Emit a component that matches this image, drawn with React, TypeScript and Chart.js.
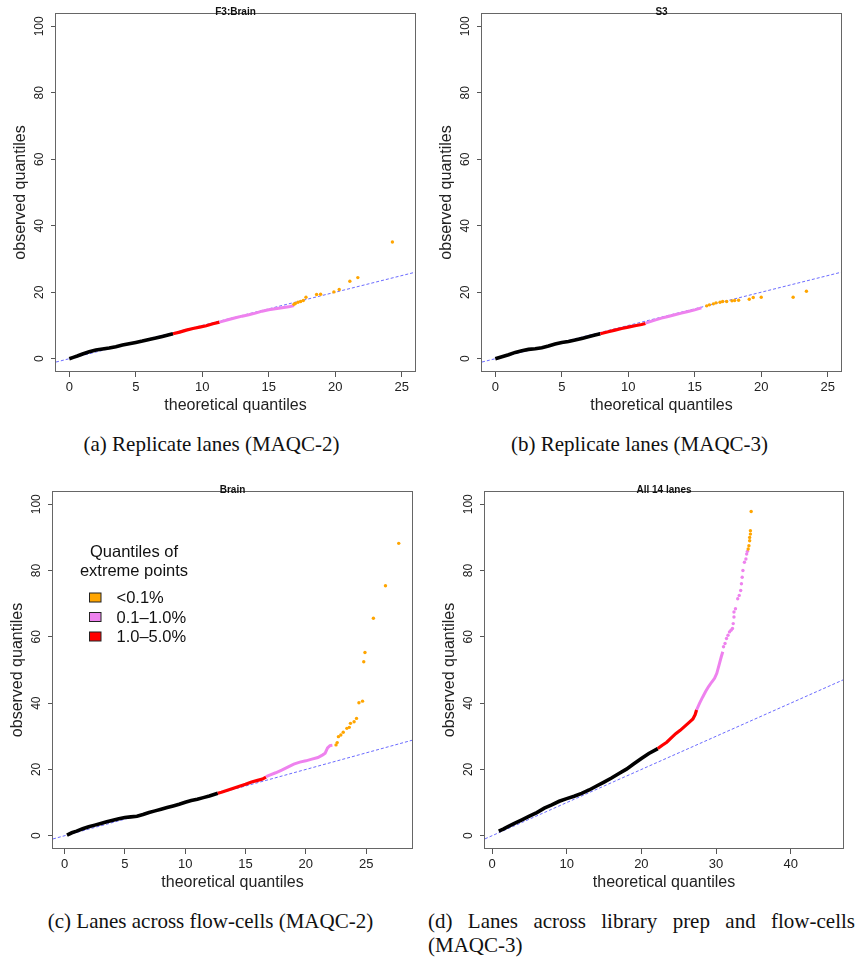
import React, { useEffect, useRef } from "react";
import { Chart, registerables } from "chart.js";
Chart.register(...registerables);

type Pt = [number, number];

// ---------- DATA ----------
const Y_TICKS = [0, 20, 40, 60, 80, 100];
const X_TICKS_25 = [0, 5, 10, 15, 20, 25];
const X_TICKS_40 = [0, 10, 20, 30, 40];

const LEGEND_TITLE = ["Quantiles of", "extreme points"];
const LEGEND_LABELS = ["<0.1%", "0.1\u20131.0%", "1.0\u20135.0%"];

// (a) F3:Brain
const A_BLACK: Pt[] = [[0, 0], [0.3, 0.4], [0.6, 0.8], [1, 1.4], [1.5, 2.1], [2, 2.6], [2.5, 2.9], [3, 3.2], [3.5, 3.6], [4, 4.1], [4.5, 4.5], [5, 4.9], [5.5, 5.3], [6, 5.8], [6.5, 6.2], [7, 6.7], [7.5, 7.2], [7.8, 7.5]];
const A_RED: Pt[] = [[7.8, 7.5], [8.3, 8.0], [8.8, 8.6], [9.3, 9.1], [9.8, 9.5], [10.3, 9.9], [10.8, 10.5], [11.3, 11.0]];
const A_VIOLET: Pt[] = [[11.3, 11.0], [12, 11.8], [12.5, 12.3], [13, 12.8], [13.5, 13.2], [14, 13.7], [14.5, 14.3], [15, 14.7], [15.5, 15.0], [16, 15.3], [16.5, 15.6], [16.9, 16.0]];
const A_ORANGE: Pt[] = [[16.9, 16.4], [17.0, 16.6], [17.2, 17.0], [17.4, 17.2], [17.6, 17.5], [17.8, 18.5], [18.6, 19.3], [18.9, 19.4], [19.9, 20.1], [20.3, 20.8], [21.1, 23.3], [21.7, 24.4], [24.3, 35.1]];

// (b) S3
const B_BLACK: Pt[] = [[0, 0], [0.5, 0.6], [1, 1.2], [1.5, 1.9], [2, 2.4], [2.5, 2.8], [3, 3.0], [3.5, 3.3], [4, 3.8], [4.5, 4.4], [5, 4.9], [5.5, 5.2], [6, 5.6], [6.5, 6.1], [7, 6.6], [7.5, 7.1], [7.9, 7.5]];
const B_RED: Pt[] = [[7.9, 7.5], [8.5, 8.1], [9, 8.6], [9.5, 9.1], [10, 9.5], [10.5, 9.9], [11, 10.3], [11.3, 10.6]];
const B_VIOLET: Pt[] = [[11.3, 10.7], [12, 11.6], [12.5, 12.2], [13, 12.7], [13.5, 13.2], [14, 13.7], [14.5, 14.2], [15, 14.7], [15.5, 15.3]];
const B_ORANGE: Pt[] = [[15.9, 15.9], [16.1, 16.2], [16.4, 16.5], [16.6, 16.8], [16.9, 17.0], [17.1, 17.2], [17.4, 17.2], [17.8, 17.4], [18.0, 17.5], [18.3, 17.6], [19.1, 17.9], [19.4, 18.4], [20.0, 18.5], [22.4, 18.5], [23.4, 20.3]];

// (c) Brain
const C_BLACK: Pt[] = [[0.2, 0.2], [0.6, 0.9], [1, 1.4], [1.5, 2.1], [2, 2.7], [2.5, 3.2], [3, 3.7], [3.5, 4.2], [4, 4.7], [4.5, 5.1], [5, 5.5], [5.5, 5.7], [6, 5.9], [6.5, 6.4], [7, 7.0], [7.5, 7.5], [8, 8.0], [8.5, 8.5], [9, 9.0], [9.5, 9.5], [10, 10.1], [10.5, 10.6], [11, 11.0], [11.5, 11.5], [12, 12.0], [12.7, 12.8]];
const C_RED: Pt[] = [[12.7, 12.8], [13, 13.1], [13.5, 13.7], [14, 14.3], [14.5, 14.9], [15, 15.5], [15.5, 16.2], [16, 16.7], [16.4, 17.1], [16.7, 17.7]];
const C_VIOLET: Pt[] = [[16.7, 17.8], [17, 18.3], [17.5, 19.0], [18, 19.8], [18.5, 20.7], [19, 21.6], [19.5, 22.2], [20, 22.6], [20.5, 23.1], [21, 23.6], [21.4, 24.4], [21.6, 24.9], [21.8, 26.5], [22.0, 27.2], [22.2, 27.3]];
const C_ORANGE: Pt[] = [[22.5, 27.4], [22.6, 28.1], [22.7, 29.9], [22.9, 30.4], [23.1, 31.2], [23.4, 32.4], [23.6, 32.7], [23.7, 33.9], [24.0, 34.4], [24.2, 35.4], [24.4, 40.1], [24.7, 40.6], [24.8, 52.5], [24.9, 55.3], [25.6, 65.6], [26.6, 75.4], [27.7, 88.2]];

// (d) All 14 lanes
const D_BLACK: Pt[] = [[0.9, 1.4], [1.5, 2.0], [2, 2.6], [3, 3.7], [4, 4.8], [5, 5.9], [6, 7.0], [7, 8.3], [8, 9.3], [9, 10.4], [10, 11.2], [11, 11.9], [12, 12.8], [13, 13.8], [14, 15.0], [15, 16.2], [16, 17.4], [17, 18.8], [18, 20.1], [19, 21.7], [20, 23.3], [21, 24.8], [22.2, 26.3]];
const D_RED: Pt[] = [[22.2, 26.3], [22.8, 27.3], [23.4, 28.2], [24.0, 29.5], [24.6, 30.8], [25.2, 31.8], [25.8, 33.0], [26.4, 34.2], [26.9, 35.2], [27.2, 36.5], [27.4, 38.0]];
const D_VIOLET: Pt[] = [[27.4, 38.0], [27.8, 40.0], [28.2, 41.8], [28.6, 43.5], [29.0, 45.0], [29.4, 46.3], [29.8, 47.5], [30.1, 49.0], [30.4, 51.5], [30.7, 54.0], [30.9, 55.5]];
const D_VIOLET_SPARSE: Pt[] = [[31.0, 57.0], [31.2, 58.0], [31.4, 59.5], [31.6, 60.5], [31.8, 61.5], [32.0, 62.0], [32.2, 62.5], [32.3, 64.0], [32.4, 66.0], [32.4, 67.5], [32.6, 68.5], [32.9, 71.5], [33.1, 72.5], [33.3, 74.0], [33.4, 76.0], [33.5, 78.0], [33.6, 80.0], [33.8, 82.5], [34.0, 83.5], [34.1, 85.0], [34.2, 85.8]];
const D_ORANGE: Pt[] = [[34.3, 86.5], [34.4, 87.5], [34.5, 89.0], [34.5, 90.0], [34.6, 91.0], [34.6, 92.0], [34.7, 97.8]];

// ---------- STYLE ----------
const ORANGE = "#FFA500";
const VIOLET = "#EE82EE";
const RED = "#FF0000";
const BLACK = "#000000";
const BLUE = "rgba(90,90,255,0.9)";
const SANS = "'Liberation Sans', Arial, sans-serif";
const NARROW = "'Liberation Sans Narrow', 'Liberation Sans', Arial, sans-serif";
const X_AXIS_H = 45;

interface Spec {
  title: string;
  xMin: number; xMax: number; xTicks: number[];
  black: Pt[]; red: Pt[]; violet: Pt[]; violetSparse: Pt[]; orange: Pt[];
  left: number; top: number; width: number; height: number;
  box: { l: number; t: number; r: number; b: number };
  legend: boolean;
}

const SPECS: Spec[] = [
  { title: "F3:Brain", xMin: -1, xMax: 26, xTicks: X_TICKS_25, black: A_BLACK, red: A_RED, violet: A_VIOLET, violetSparse: [], orange: A_ORANGE,
    left: 0, top: 0, width: 426, height: 420, box: { l: 56, t: 13, r: 415, b: 372 }, legend: false },
  { title: "S3", xMin: -1, xMax: 26, xTicks: X_TICKS_25, black: B_BLACK, red: B_RED, violet: B_VIOLET, violetSparse: [], orange: B_ORANGE,
    left: 426, top: 0, width: 430, height: 420, box: { l: 56, t: 13, r: 415, b: 372 }, legend: false },
  { title: "Brain", xMin: -0.96, xMax: 28.8, xTicks: X_TICKS_25, black: C_BLACK, red: C_RED, violet: C_VIOLET, violetSparse: [], orange: C_ORANGE,
    left: 0, top: 470, width: 426, height: 428, box: { l: 53, t: 21, r: 412, b: 379 }, legend: true },
  { title: "All 14 lanes", xMin: -0.94, xMax: 47, xTicks: X_TICKS_40, black: D_BLACK, red: D_RED, violet: D_VIOLET, violetSparse: D_VIOLET_SPARSE, orange: D_ORANGE,
    left: 426, top: 470, width: 430, height: 428, box: { l: 59, t: 21, r: 417, b: 379 }, legend: false },
];

const toXY = (pts: Pt[]) => pts.map(([x, y]) => ({ x, y }));

function makeConfig(s: Spec): any {
  const framePlugin = {
    id: "frame",
    afterDatasetsDraw(chart: any) {
      const { ctx, chartArea: a } = chart;
      ctx.save();
      ctx.strokeStyle = "#666";
      ctx.lineWidth = 1;
      ctx.strokeRect(Math.round(a.left) - 0.5, Math.round(a.top) + 0.5, Math.round(a.right - a.left) + 1, Math.round(a.bottom - a.top) - 1);
      ctx.fillStyle = "#111";
      ctx.font = `bold 10px ${SANS}`;
      ctx.textAlign = "center";
      ctx.textBaseline = "alphabetic";
      ctx.fillText(s.title, (a.left + a.right) / 2, a.top + 1.5);
      if (s.legend) {
        ctx.font = `16.5px ${SANS}`;
        ctx.fillStyle = "#111";
        ctx.textBaseline = "middle";
        ctx.fillText(LEGEND_TITLE[0], 134, 82);
        ctx.fillText(LEGEND_TITLE[1], 134, 101);
        const cols = [ORANGE, VIOLET, RED];
        const ys = [127.5, 147, 166.5];
        ctx.textAlign = "left";
        LEGEND_LABELS.forEach((lab, i) => {
          ctx.fillStyle = cols[i];
          ctx.fillRect(89.5, ys[i] - 4.5, 11.5, 9);
          ctx.strokeStyle = "#222";
          ctx.lineWidth = 1;
          ctx.strokeRect(89.5, ys[i] - 4.5, 11.5, 9);
          ctx.fillStyle = "#111";
          ctx.fillText(lab, 116.5, ys[i] + 1);
        });
      }
      ctx.restore();
    },
  };

  const lineDs = (pts: Pt[], color: string, w: number) => ({
    data: toXY(pts), showLine: true, borderColor: color, backgroundColor: color,
    borderWidth: w, pointRadius: 0, tension: 0,
  });
  const ptDs = (pts: Pt[], color: string) => ({
    data: toXY(pts), showLine: false, borderColor: color, backgroundColor: color,
    borderWidth: 0, pointRadius: 1.7,
  });

  return {
    type: "scatter",
    plugins: [framePlugin],
    data: {
      datasets: [
        ptDs(s.orange, ORANGE),
        ptDs(s.violetSparse, VIOLET),
        lineDs(s.violet, VIOLET, 3),
        lineDs(s.red, RED, 3.2),
        lineDs(s.black, BLACK, 3.6),
        {
          data: [{ x: s.xMin, y: s.xMin }, { x: s.xMax, y: s.xMax }],
          showLine: true, borderColor: BLUE, borderWidth: 1, borderDash: [3, 2],
          pointRadius: 0,
        },
      ],
    },
    options: {
      responsive: false,
      maintainAspectRatio: false,
      animation: false,
      events: [],
      layout: {
        padding: { left: 0, top: s.box.t, right: s.width - s.box.r, bottom: s.height - s.box.b - X_AXIS_H },
      },
      plugins: { legend: { display: false }, tooltip: { enabled: false }, title: { display: false } },
      scales: {
        x: {
          type: "linear", min: s.xMin, max: s.xMax,
          afterFit: (sc: any) => { sc.height = X_AXIS_H; },
          afterBuildTicks: (sc: any) => { sc.ticks = s.xTicks.map((v) => ({ value: v })); },
          grid: { display: true, drawOnChartArea: false, drawTicks: true, tickLength: 5, tickColor: "#555", lineWidth: 1 },
          border: { display: false },
          ticks: { font: { family: SANS, size: 13 }, color: "#222", padding: 2.2, minRotation: 0, maxRotation: 0, autoSkip: false },
          title: { display: true, text: "theoretical quantiles", font: { family: SANS, size: 16 }, color: "#222", padding: { top: 0, bottom: 1.9 } },
        },
        y: {
          type: "linear", min: -4, max: 104,
          afterFit: (sc: any) => { sc.width = s.box.l; },
          afterBuildTicks: (sc: any) => { sc.ticks = Y_TICKS.map((v) => ({ value: v })); },
          grid: { display: true, drawOnChartArea: false, drawTicks: true, tickLength: 5, tickColor: "#555", lineWidth: 1 },
          border: { display: false },
          ticks: { font: { family: NARROW, size: 12 }, color: "#222", padding: 1, minRotation: 90, maxRotation: 90, crossAlign: "center", autoSkip: false },
          title: { display: true, text: "observed quantiles", font: { family: SANS, size: 16 }, color: "#222", padding: { top: s.box.l - 44.6, bottom: 0 } },
        },
      },
    },
  };
}

function Panel({ spec }: { spec: Spec }) {
  const ref = useRef<HTMLCanvasElement | null>(null);
  useEffect(() => {
    if (!ref.current) return;
    const chart = new Chart(ref.current, makeConfig(spec));
    return () => chart.destroy();
  }, [spec]);
  return (
    <canvas
      ref={ref}
      width={spec.width}
      height={spec.height}
      style={{ position: "absolute", left: spec.left, top: spec.top, width: spec.width, height: spec.height }}
    />
  );
}

const capStyle: React.CSSProperties = {
  position: "absolute",
  fontFamily: "'Liberation Serif', 'Times New Roman', serif",
  fontSize: 21,
  lineHeight: "24px",
  color: "#111",
  margin: 0,
};

export default function App() {
  return (
    <div style={{ position: "absolute", left: 0, top: 0, width: 856, height: 957, background: "#fff", overflow: "hidden" }}>
      {SPECS.map((s, i) => (
        <Panel key={i} spec={s} />
      ))}
      <div style={{ ...capStyle, left: 0, top: 432, width: 423, textAlign: "center" }}>(a) Replicate lanes (MAQC-2)</div>
      <div style={{ ...capStyle, left: 426, top: 432, width: 427, textAlign: "center" }}>(b) Replicate lanes (MAQC-3)</div>
      <div style={{ ...capStyle, left: 0, top: 909, width: 421, textAlign: "center" }}>(c) Lanes across flow-cells (MAQC-2)</div>
      <div style={{ ...capStyle, left: 428, top: 909, width: 427, textAlign: "justify" }}>(d) Lanes across library prep and flow-cells (MAQC-3)</div>
    </div>
  );
}
